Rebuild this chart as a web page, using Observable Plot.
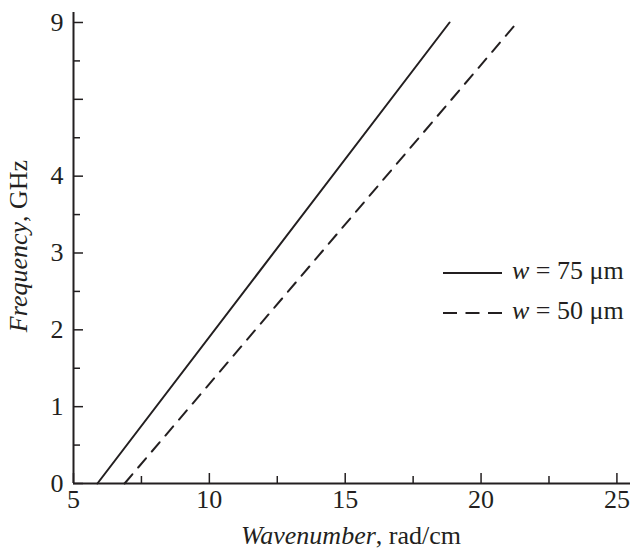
<!DOCTYPE html>
<html><head><meta charset="utf-8">
<script src="https://cdn.jsdelivr.net/npm/d3@7"></script>
<script src="https://cdn.jsdelivr.net/npm/@observablehq/plot@0.6"></script>
<style>body{margin:0;background:#fff}</style>
</head><body><div id="chart"></div>
<script>
// Data (y values are positions on the plotted axis; the top tick is labelled "9")
const seriesNames = ["75", "50"];
const wavenumber75 = [5.88, 18.84];
const frequency75 = [0, 6.0];
const wavenumber50 = [6.88, 21.23];
const frequency50 = [0, 5.96];
const xMajorTicks = [5, 10, 15, 20, 25];
const xMinorTicks = [7.5, 12.5, 17.5, 22.5];
const yMajorTicks = [0, 1, 2, 3, 4, 5, 6];
const yTickLabels = ["0", "1", "2", "3", "4", "", "9"];
const yMinorTicks = [0.5, 1.5, 2.5, 3.5, 4.5, 5.5];

const line75 = wavenumber75.map((k, i) => ({k, f: frequency75[i]}));
const line50 = wavenumber50.map((k, i) => ({k, f: frequency50[i]}));

const ink = "#231f20";
const font = "'Liberation Serif', 'Times New Roman', serif";
const fs = 26;

const svg = Plot.plot({
  width: 632, height: 555,
  marginLeft: 73, marginRight: 2, marginTop: 12, marginBottom: 72,
  style: {fontFamily: font, fontSize: fs + "px", color: ink, background: "#fff"},
  x: {domain: [5, 25.5]},
  y: {domain: [0, 6.13]},
  marks: [
    Plot.axisX({ticks: xMajorTicks, tickSize: -10, tickFormat: () => "", label: null, stroke: ink, strokeWidth: 1.5}),
    Plot.axisX({ticks: xMinorTicks, tickSize: -7, tickFormat: () => "", label: null, stroke: ink, strokeWidth: 1.5}),
    Plot.axisX({ticks: xMajorTicks, tickSize: 0, tickPadding: 6, label: null, fill: ink, fontSize: fs}),
    Plot.axisY({ticks: yMajorTicks, tickSize: -10, tickFormat: () => "", label: null, stroke: ink, strokeWidth: 1.5}),
    Plot.axisY({ticks: yMinorTicks, tickSize: -7, tickFormat: () => "", label: null, stroke: ink, strokeWidth: 1.5}),
    Plot.axisY({ticks: yMajorTicks, tickSize: 0, tickPadding: 10, label: null, fill: ink, fontSize: fs,
      tickFormat: d => yTickLabels[yMajorTicks.indexOf(d)]}),
    Plot.ruleX([5], {stroke: ink, strokeWidth: 2}),
    Plot.ruleY([0], {stroke: ink, strokeWidth: 2}),
    Plot.line(line75, {x: "k", y: "f", stroke: ink, strokeWidth: 2}),
    Plot.line(line50, {x: "k", y: "f", stroke: ink, strokeWidth: 2, strokeDasharray: "12,9"})
  ]
});

const s = d3.select(svg);
// Axis titles
const yt = s.append("text").attr("transform", "translate(21,246) rotate(-90)")
  .attr("text-anchor", "middle").attr("dominant-baseline", "middle")
  .attr("font-size", fs).attr("fill", ink);
yt.append("tspan").attr("font-style", "italic").text("Frequency");
yt.append("tspan").text(", GHz");
const xt = s.append("text").attr("transform", "translate(351,538)")
  .attr("text-anchor", "middle").attr("dominant-baseline", "middle")
  .attr("font-size", fs).attr("fill", ink);
xt.append("tspan").attr("font-style", "italic").text("Wavenumber");
xt.append("tspan").text(", rad/cm");

// Legend
const legendRows = [{name: seriesNames[0], dash: null, y: 273}, {name: seriesNames[1], dash: "14,8.5", y: 313}];
legendRows.forEach(r => {
  s.append("line").attr("x1", 443).attr("x2", 502).attr("y1", r.y).attr("y2", r.y)
    .attr("stroke", ink).attr("stroke-width", 2).attr("stroke-dasharray", r.dash);
  const t = s.append("text").attr("x", 512).attr("y", r.y).attr("dominant-baseline", "middle")
    .attr("text-anchor", "start").attr("font-size", fs).attr("fill", ink);
  t.append("tspan").attr("font-style", "italic").text("w");
  t.append("tspan").text(" = " + r.name + " μm");
});

document.getElementById("chart").appendChild(svg);
</script>
</body></html>
